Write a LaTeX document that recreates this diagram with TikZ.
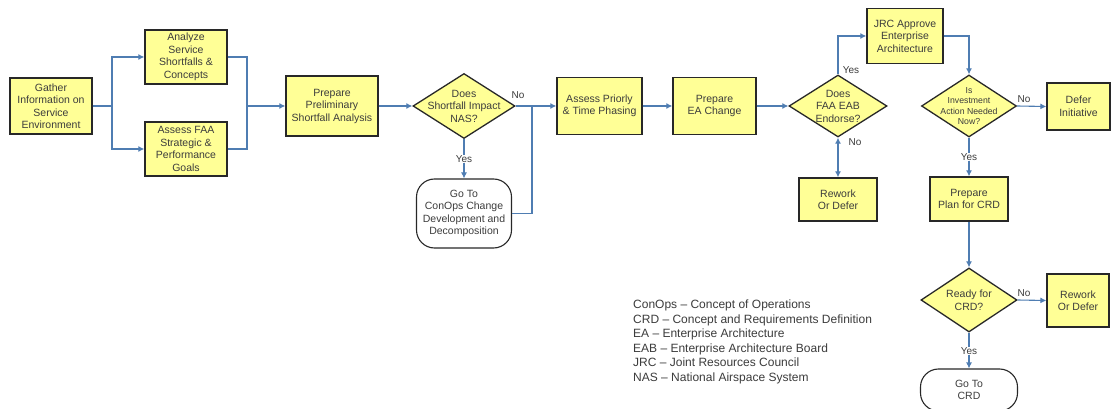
\documentclass[tikz,border=0pt]{standalone}
\usepackage{fontspec}
\setmainfont{Liberation Sans}
\usetikzlibrary{shapes.geometric,arrows.meta}
\definecolor{boxfill}{RGB}{255,255,150}
\definecolor{boxline}{RGB}{40,40,40}
\definecolor{conn}{RGB}{79,125,178}
\definecolor{txt}{RGB}{60,60,60}
\tikzset{
  box/.style={draw=boxline, line width=1.3pt, fill=boxfill, align=center, inner sep=1pt,
    text=txt, font=\fontsize{10.5}{12.5}\selectfont},
  dia/.style={diamond, draw=boxline, line width=1.3pt, fill=boxfill, inner sep=0pt},
  diatext/.style={align=center, text=txt, font=\fontsize{10.5}{12.5}\selectfont, inner sep=0pt},
  term/.style={draw=boxline, line width=1.1pt, fill=white, rounded corners=18pt, align=center,
    text=txt, font=\fontsize{10.5}{12.5}\selectfont},
  line/.style={draw=conn, line width=1.1pt},
  arr/.style={line, -{Latex[length=6pt,width=6pt]}},
  lbl/.style={text=txt, font=\fontsize{10}{11}\selectfont, inner sep=1pt},
  lblw/.style={lbl, fill=white},
}
\begin{document}
\begin{tikzpicture}[x=1pt,y=-1pt]
\path[use as bounding box, fill=white] (0,0) rectangle (1112,409);
\clip (0,0) rectangle (1112,409);

% boxes
\node[box, minimum width=82pt, minimum height=56pt] (gather) at (51,106) {Gather\\Information on\\Service\\Environment};
\node[box, minimum width=82pt, minimum height=54pt] (analyze) at (186,57) {Analyze\\Service\\Shortfalls \&\\Concepts};
\node[box, minimum width=82pt, minimum height=54pt] (assess) at (186,149) {Assess FAA\\Strategic \&\\Performance\\Goals};
\node[box, minimum width=92pt, minimum height=60pt] (prelim) at (332,106) {Prepare\\Preliminary\\Shortfall Analysis};

\node[dia, minimum width=102pt, minimum height=65pt] (d1) at (464,106) {};
\node[diatext] (d1t) at (d1.center) {Does\\Shortfall Impact\\NAS?};

\node[term, minimum width=95pt, minimum height=69pt] (conops) at (464,213.5) {Go To\\ConOps Change\\Development and\\Decomposition};

\node[box, minimum width=85pt, minimum height=57pt] (prio) at (599.5,106) {Assess Priorly\\\& Time Phasing};
\node[box, minimum width=83pt, minimum height=57pt] (prepea) at (714.5,106) {Prepare\\EA Change};

\node[dia, minimum width=98pt, minimum height=62pt] (d2) at (838,106) {};
\node[diatext] (d2t) at (d2.center) {Does\\FAA EAB\\Endorse?};

\node[box, minimum width=76pt, minimum height=55pt] (jrc) at (905,36) {JRC Approve\\Enterprise\\Architecture};
\node[box, minimum width=78pt, minimum height=43pt] (rework1) at (838,199.5) {Rework\\Or Defer};

\node[dia, minimum width=95pt, minimum height=62pt] (d3) at (969,106) {};
\node[diatext, font=\fontsize{8.7}{10.5}\selectfont] (d3t) at (d3.center) {Is\\Investment\\Action Needed\\Now?};

\node[box, minimum width=63pt, minimum height=47pt] (defer) at (1078.5,106.5) {Defer\\Initiative};
\node[box, minimum width=78pt, minimum height=44pt] (plan) at (969,199) {Prepare\\Plan for CRD};

\node[dia, minimum width=96pt, minimum height=64pt] (d4) at (969,300) {};
\node[diatext] (d4t) at (d4.center) {Ready for\\CRD?};

\node[box, minimum width=62pt, minimum height=53pt] (rework2) at (1078,300.5) {Rework\\Or Defer};
\node[term, minimum width=97pt, minimum height=42pt] (crd) at (969,390) {Go To\\CRD};

% connectors
\coordinate (s1) at (112,106);
\draw[line] (gather.east) -- (s1);
\draw[arr] (s1) |- (analyze.west);
\draw[arr] (s1) |- (assess.west);
\coordinate (m1) at (247,106);
\draw[line] (analyze.east) -| (m1);
\draw[line] (assess.east) -| (m1);
\draw[arr] (m1) -- (prelim.west);
\draw[arr] (prelim.east) -- (d1.west);
\draw[arr] (d1.east) -- (prio.west);
\draw[arr] (d1.south) -- (conops.north);
\coordinate (j1) at (532,106);
\draw[line] (conops.east) -| (j1);
\draw[arr] (prio.east) -- (prepea.west);
\draw[arr] (prepea.east) -- (d2.west);
\draw[arr] (d2.north) |- (jrc.west);
\draw[line, line width=2pt, {Latex[length=6pt,width=6pt]}-{Latex[length=6pt,width=6pt]}] (d2.south) -- (rework1.north);
\draw[arr] (jrc.east) -| (d3.north);
\draw[arr] (d3.east) -- (defer.west);
\draw[arr] (d3.south) -- (plan.north);
\draw[arr] (plan.south) -- (d4.north);
\draw[arr] (d4.east) -- (rework2.west);
\draw[arr] (d4.south) -- (crd.north);

% labels
\node[lbl] (no1) at (518,95) {No};
\node[lblw] (yes1) at (464,159) {Yes};
\node[lbl] (yes2) at (851,70) {Yes};
\node[lbl] (no2) at (855,142) {No};
\node[lbl] (no3) at (1024,99) {No};
\node[lblw] (yes3) at (969,157) {Yes};
\node[lbl] (no4) at (1024,293) {No};
\node[lblw] (yes4) at (969,351) {Yes};

% legend
\node[anchor=north west, align=left, text=txt, inner sep=0pt, font=\fontsize{12}{14.5}\selectfont] (legend) at (633,300)
{ConOps -- Concept of Operations\\
CRD -- Concept and Requirements Definition\\
EA -- Enterprise Architecture\\
EAB -- Enterprise Architecture Board\\
JRC -- Joint Resources Council\\
NAS -- National Airspace System};
\end{tikzpicture}
\end{document}
